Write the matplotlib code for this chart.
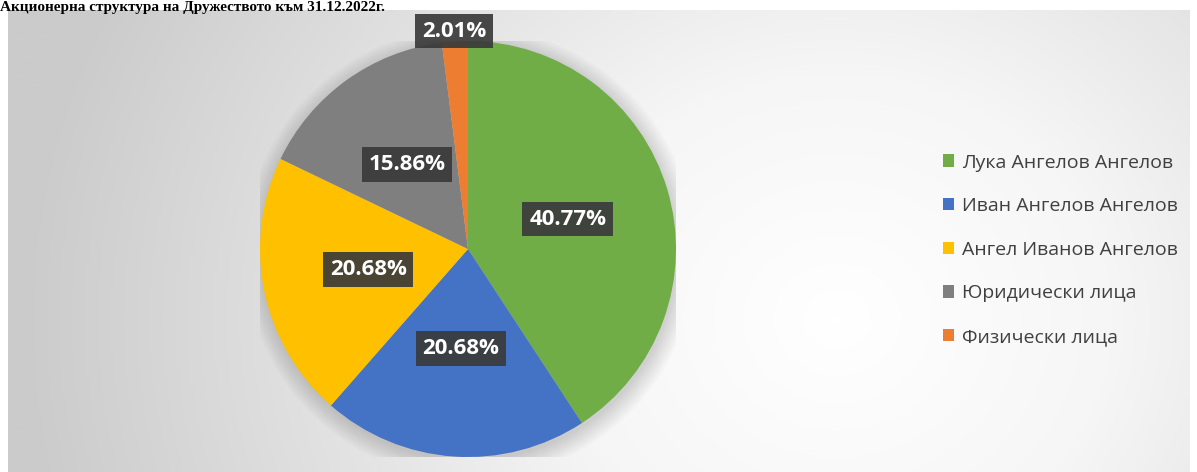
import numpy as np
import matplotlib
matplotlib.use("Agg")
import matplotlib.pyplot as plt
from matplotlib.colors import LinearSegmentedColormap
from matplotlib.patches import Circle

# data
names = ["Лука Ангелов Ангелов", "Иван Ангелов Ангелов", "Ангел Иванов Ангелов",
         "Юридически лица", "Физически лица"]
shares = [40.77, 20.68, 20.68, 15.86, 2.01]
colors = ["#70AD47", "#4472C4", "#FFC000", "#7F7F7F", "#ED7D31"]
label_r = [0.50, 0.48, 0.49, 0.50, 1.05]
title = "Акционерна структура на Дружеството към 31.12.2022г."

W, H = 1197, 472
fig = plt.figure(figsize=(W / 100, H / 100), dpi=100)
fig.patch.set_facecolor("white")

# fond radial gris -> blanc
bg = fig.add_axes([8 / W, 0, 1182 / W, 462 / H], zorder=0)
xx, yy = np.meshgrid(np.linspace(0, 1182, 400), np.linspace(0, 462, 200))
d = np.sqrt((xx - 830) ** 2 + ((yy - 310) / 0.9) ** 2)
d = np.clip(d / 820, 0, 1)
cmap = LinearSegmentedColormap.from_list("bg", ["#ffffff", "#f6f6f6", "#e0e0e0", "#cbcbcb"])
bg.imshow(d, cmap=cmap, aspect="auto", origin="upper", extent=[0, 1, 0, 1])
bg.set_axis_off()

# camembert
cx, cy, r = 468, 249, 208
ax = fig.add_axes([(cx - r) / W, (H - cy - r) / H, 2 * r / W, 2 * r / H], zorder=2)
# ombre douce
for k in range(8):
    ax.add_patch(Circle((0.01, -0.02), 1.0 + 0.012 * k, facecolor="black",
                        alpha=0.018, edgecolor="none", zorder=0))
wedges, _ = ax.pie(shares, colors=colors, startangle=90, counterclock=False,
                   radius=1, wedgeprops=dict(linewidth=0, zorder=1))
for w, v, lr in zip(wedges, shares, label_r):
    ang = np.deg2rad((w.theta1 + w.theta2) / 2)
    ax.text(lr * np.cos(ang), lr * np.sin(ang), f"{v:.2f}%", ha="center", va="center",
            color="white", fontsize=16, fontweight="bold", family="Open Sans", zorder=3,
            bbox=dict(boxstyle="square,pad=0.3", facecolor="#3a3a3a", edgecolor="none", alpha=0.92))
ax.set_xlim(-1, 1)
ax.set_ylim(-1, 1)
ax.set_aspect("auto")
ax.set_axis_off()

# legende
leg = ax.legend(wedges, names, loc="upper left", bbox_to_anchor=(925 / W, (H - 136) / H),
                bbox_transform=fig.transFigure, frameon=False, handlelength=0.6,
                handleheight=0.6, handletextpad=0.4, labelspacing=1.32,
                prop=dict(family="Open Sans", size=14))
for t in leg.get_texts():
    t.set_color("#404040")

# titre
fig.text(0.0, 1 - 1 / H, title, ha="left", va="top", fontsize=11,
         fontweight="bold", family="Liberation Serif", color="black", zorder=5)

fig.savefig("out.png", dpi=100)
